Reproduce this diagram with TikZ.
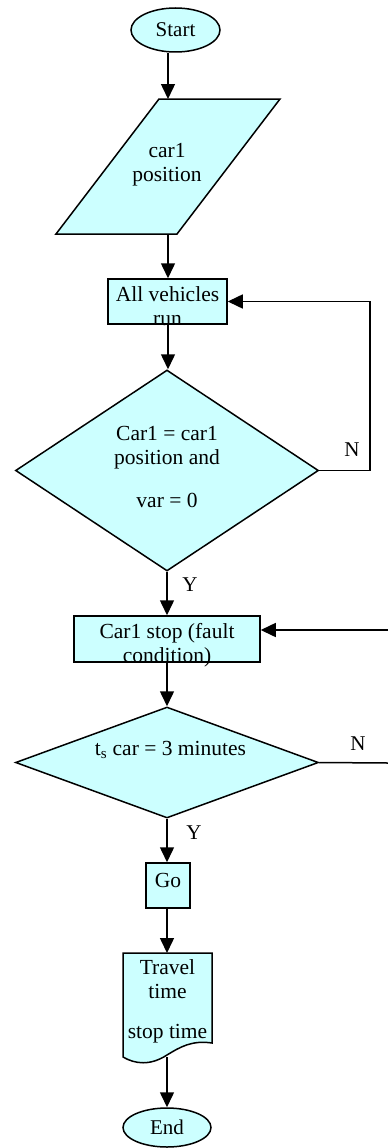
\documentclass[tikz,border=0pt]{standalone}
\usepackage{fontspec}
\setmainfont{Liberation Serif}
\usetikzlibrary{shapes.geometric,arrows.meta}
\definecolor{fillc}{HTML}{CCFFFF}
\begin{document}
\begin{tikzpicture}[x=1pt,y=-1pt,
  line/.style={line width=1.5pt},
  arr/.style={line width=1.5pt,-{Triangle[length=15pt,width=14pt]}},
  shapebox/.style={draw,line width=1.5pt,fill=fillc,inner sep=0pt},
  txt/.style={font=\fontsize{21.5}{24}\selectfont,align=center,inner sep=0pt},
  lbl/.style={font=\fontsize{21}{24}\selectfont,inner sep=0pt}]
\useasboundingbox (0,0) rectangle (388,1148);

% Start
\node[shapebox,ellipse,minimum width=89pt,minimum height=44pt,font=\fontsize{21}{24}\selectfont] (start) at (175.5,30) {Start};

% input parallelogram
\coordinate (inpT) at (168,99);
\coordinate (inpB) at (168,234);
\path[shapebox] (159,99) -- (280,99) -- (177,234) -- (56,234) -- cycle;
\node[txt] (inp) at (167,165) {car1\\position};

% box 1
\node[shapebox,minimum width=119pt,minimum height=45pt] (b1) at (167.5,301.5) {};
\node[txt] (b1t) at (167.5,306) {All vehicles\\run};

% diamond 1
\node[shapebox,diamond,minimum width=303pt,minimum height=201pt] (d1) at (167,470.5) {};
\node[txt] (d1t) at (167,467) {Car1 = car1\\position and\\[18.5pt]var = 0};

% box 2
\node[shapebox,minimum width=186pt,minimum height=46pt] (b2) at (167,639) {};
\node[txt] (b2t) at (167,645) {Car1 stop (fault\\condition)};

% diamond 2
\node[shapebox,diamond,minimum width=303pt,minimum height=111pt] (d2) at (167,762.5) {};
\node[txt] (d2t) at (170.5,750) {t\textsubscript{s} car = 3 minutes};

% Go
\node[shapebox,minimum width=44pt,minimum height=45pt] (go) at (168,885.5) {};
\node[txt] (got) at (168,880) {Go};

% document
\coordinate (docT) at (168,953);
\coordinate (docB) at (167,1057);
\path[shapebox] (123,953) -- (212,953) -- (212,1043)
  .. controls (192,1040) and (180,1047) .. (167,1055)
  .. controls (150,1066) and (135,1064) .. (123,1057) -- cycle;
\node[txt] (doct) at (167.5,1001.5) {Travel\\time\\[16pt]stop time};

% End
\node[shapebox,ellipse,minimum width=88pt,minimum height=39pt,font=\fontsize{21}{24}\selectfont] (end) at (167,1127.5) {End};

% connectors
\draw[arr] (start.south -| inpT) -- (inpT);
\draw[arr] (inpB) -- (inpB |- b1.north);
\draw[arr] (b1.south -| inpT) -- (inpT |- d1.north);
\draw[arr] (d1.south) -- (b2.north);
\draw[arr] (b2.south) -- (d2.north);
\draw[arr] (d2.south) -- (d2.south |- go.north);
\draw[arr] (go.south -| d2.south) -- (d2.south |- docT);
\draw[arr] (docB) -- (end.north);

\coordinate (r1) at (370,470.5);
\draw[arr] (d1.east) -- (r1) -- (r1 |- b1.east) -- (b1.east);
\coordinate (r2) at (388,763);
\draw[line] (d2.east) -- (r2);
\coordinate (r3) at (388,630);
\draw[arr] (r3) -- (b2.east |- r3);

% labels
\node[lbl] (n1) at (352,450) {N};
\node[lbl] (n2) at (358,744) {N};
\node[lbl] (y1) at (190,585) {Y};
\node[lbl] (y2) at (194,833) {Y};
\end{tikzpicture}
\end{document}
